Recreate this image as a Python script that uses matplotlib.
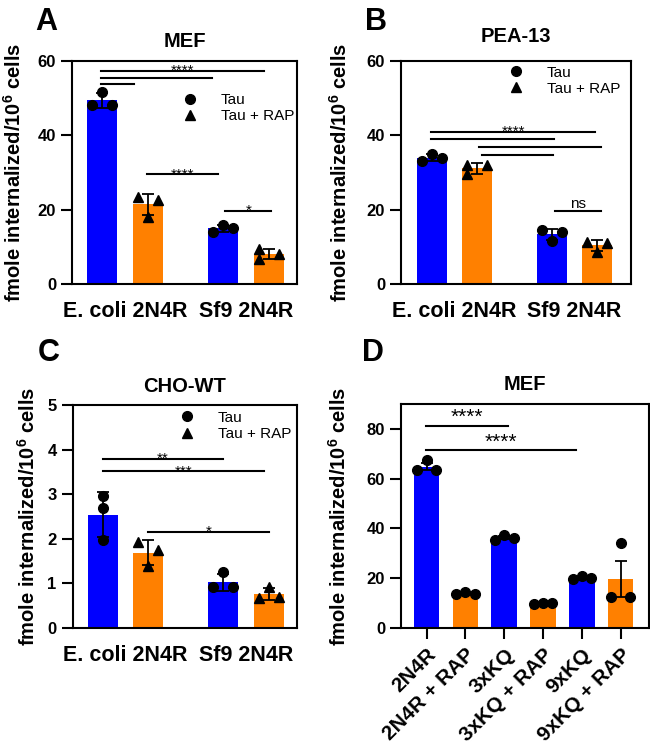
import numpy as np
import matplotlib
matplotlib.use("Agg")
import matplotlib.pyplot as plt
from matplotlib.lines import Line2D

plt.rcParams['font.family'] = ['Liberation Sans', 'DejaVu Sans']
plt.rcParams['mathtext.fontset'] = 'custom'
plt.rcParams['mathtext.rm'] = 'Liberation Sans'
plt.rcParams['mathtext.bf'] = 'Liberation Sans:bold'

BLUE = '#0000FF'
ORANGE = '#FF8000'

# --- data (3 replicates per bar) ---
groups_abc = ['E. coli 2N4R', 'Sf9 2N4R']
legend_labels = ['Tau', 'Tau + RAP']

mef_reps = [[48.3, 51.7, 48.3], [23.5, 22.6, 18.1], [13.9, 15.9, 15.2], [9.4, 6.6, 8.2]]
pea_reps = [[33.1, 35.0, 33.8], [32.0, 29.5, 31.9], [14.5, 11.7, 13.9], [11.4, 8.7, 11.1]]
cho_reps = [[2.96, 2.69, 1.98], [1.93, 1.75, 1.38], [1.25, 0.91, 0.93], [0.92, 0.68, 0.69]]

mut_labels = ['2N4R', '2N4R + RAP', '3xKQ', '3xKQ + RAP', '9xKQ', '9xKQ + RAP']
mut_reps = [[63.3, 67.4, 63.6], [13.6, 14.5, 13.6], [35.5, 37.5, 36.0],
            [9.8, 10.1, 10.0], [19.8, 20.8, 19.9], [34.0, 12.4, 12.4]]

# significance brackets: (x start, x end, y, label)
mef_sig = [(-0.04, 3.54, 57.4, '****'), (-0.04, 2.40, 55.5, ''), (-0.04, 0.70, 53.8, ''),
           (0.97, 2.53, 29.5, '****'), (2.70, 3.70, 19.7, '*')]
pea_sig = [(-0.01, 3.61, 41.0, '****'), (-0.01, 2.70, 38.9, ''), (1.04, 3.74, 37.0, ''),
           (1.11, 2.67, 34.7, ''), (2.73, 3.74, 19.6, 'ns')]
cho_sig = [(-0.01, 2.64, 3.79, '**'), (-0.01, 3.54, 3.51, '***'), (1.0, 3.65, 2.16, '*')]
mut_sig = [(-0.02, 2.09, 81.1, '****'), (-0.02, 3.86, 71.3, '****')]

# point dodge pattern per bar (-1 left, 0 centre, 1 right)
mef_jit = [[-1, 0, 1], [-1, 1, 0], [-1, 0, 1], [-1, -1, 1]]
pea_jit = [[-1, 0, 1], [-1, -1, 1], [-1, 0, 1], [-1, 0, 1]]
cho_jit = [[0, 0, 0], [-1, 1, 0], [0, -1, 1], [0, -1, 1]]
mut_jit = [[-1, 0, 1], [-1, 0, 1], [-1, 0, 1], [-1, 0, 1], [-1, 0, 1], [0, -1, 1]]

pos_abc = np.array([0, 1, 2.65, 3.65])
pos_d = np.arange(6)
YLABEL = r'fmole internalized/10$^{\mathbf{6}}$ cells'


def draw_bars(ax, pos, reps, jit, colors, markers, sem=False, spread=0.22, ms=7):
    reps = np.array(reps)
    means = reps.mean(axis=1)
    err = reps.std(axis=1, ddof=1)
    if sem:
        err = err / np.sqrt(reps.shape[1])
    ax.bar(pos, means, width=0.66, color=colors, zorder=1)
    ax.errorbar(pos, means, yerr=err, fmt='none', ecolor='black', elinewidth=1.3,
                capsize=4.5, capthick=1.3, zorder=3)
    for p, vals, j, m in zip(pos, reps, jit, markers):
        ax.plot(p + np.array(j) * spread, vals, ls='none', marker=m, color='black',
                ms=ms, zorder=4)


def draw_sig(ax, sig, size=11, dy=-3):
    for x0, x1, y, lab in sig:
        ax.plot([x0, x1], [y, y], color='black', lw=1.5, zorder=5)
        if lab:
            off = 2 if lab == 'ns' else dy
            ax.annotate(lab, xy=((x0 + x1) / 2, y), xytext=(0, off), textcoords='offset points',
                        ha='center', va='baseline', fontsize=size if lab != 'ns' else 11)


def style_axes(ax):
    for s in ax.spines.values():
        s.set_linewidth(1.5)
    ax.tick_params(axis='y', width=1.5, length=8, labelsize=12)
    for t in ax.get_yticklabels():
        t.set_fontweight('bold')


def add_legend(ax, anchor):
    handles = [Line2D([], [], ls='none', marker='o', color='black', ms=7),
               Line2D([], [], ls='none', marker='^', color='black', ms=7)]
    ax.legend(handles, legend_labels, loc='upper left', bbox_to_anchor=anchor, frameon=False,
              fontsize=11, handlelength=1.0, handletextpad=1.5, labelspacing=0.15,
              borderpad=0, borderaxespad=0)


fig = plt.figure(figsize=(6.5, 7.5), dpi=100)
axA = fig.add_axes([0.1108, 0.6213, 0.3462, 0.2973])
axB = fig.add_axes([0.6169, 0.6213, 0.3538, 0.2973])
axC = fig.add_axes([0.1118, 0.1627, 0.3450, 0.2973])
axD = fig.add_axes([0.6169, 0.1627, 0.3815, 0.2987])

cols4 = [BLUE, ORANGE, BLUE, ORANGE]
mk4 = ['o', '^', 'o', '^']

panels = [(axA, mef_reps, mef_jit, mef_sig, 'MEF', (0, 60), 20, (-0.667, 4.27), (0.491, 0.856), 10),
          (axB, pea_reps, pea_jit, pea_sig, 'PEA-13', (0, 60), 20, (-0.68, 4.40), (0.467, 0.98), 14),
          (axC, cho_reps, cho_jit, cho_sig, 'CHO-WT', (0, 5), 1, (-0.667, 4.27), (0.476, 0.975), 9.5)]

for ax, reps, jit, sig, title, ylim, step, xlim, anchor, pad in panels:
    draw_bars(ax, pos_abc, reps, jit, cols4, mk4)
    draw_sig(ax, sig)
    ax.set_ylim(*ylim)
    ax.set_yticks(np.arange(ylim[0], ylim[1] + step / 2, step))
    ax.set_xlim(*xlim)
    ax.set_xticks([0.5, 3.15])
    ax.set_xticklabels(groups_abc, fontsize=15.5, fontweight='bold')
    ax.tick_params(axis='x', length=0, pad=12)
    ax.set_title(title, fontsize=14.5, fontweight='bold', pad=pad)
    ax.set_ylabel(YLABEL, fontsize=14.5, fontweight='bold')
    style_axes(ax)
    add_legend(ax, anchor)

axA.yaxis.set_label_coords(-0.209, 0.5)
axB.yaxis.set_label_coords(-0.217, 0.5)
axC.yaxis.set_label_coords(-0.15, 0.5)

# panel D
cols6 = [BLUE, ORANGE] * 3
draw_bars(axD, pos_d, mut_reps, mut_jit, cols6, ['o'] * 6, sem=True, spread=0.24, ms=7)
draw_sig(axD, mut_sig, size=15, dy=2)
axD.set_ylim(0, 90)
axD.set_yticks(np.arange(0, 81, 20))
axD.set_xlim(-0.66, 5.73)
axD.set_xticks(pos_d)
axD.set_xticklabels(mut_labels, rotation=45, ha='right', rotation_mode='anchor',
                    fontsize=15, fontweight='bold')
axD.tick_params(axis='x', width=1.5, length=8, pad=4)
axD.set_title('MEF', fontsize=14.5, fontweight='bold', pad=10)
axD.set_ylabel(YLABEL, fontsize=14.5, fontweight='bold')
axD.yaxis.set_label_coords(-0.205, 0.5)
style_axes(axD)

for lab, x, y in [('A', 35, 7), ('B', 365, 7), ('C', 38, 338), ('D', 362, 338)]:
    fig.text(x / 650, 1 - y / 750, lab, fontsize=22, fontweight='bold', ha='left', va='top')

fig.savefig('out.png', dpi=100)
